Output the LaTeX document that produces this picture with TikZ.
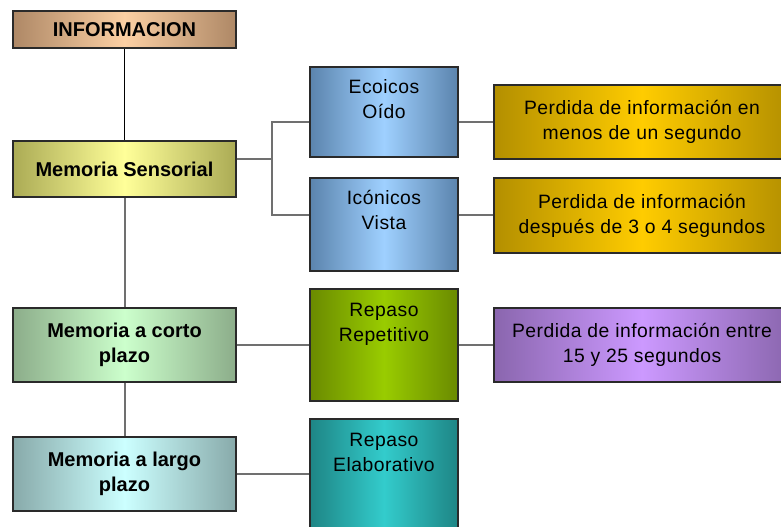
\documentclass[tikz,border=0pt]{standalone}
\usepackage{fontspec}
\setmainfont{Liberation Sans}
\newfontfamily\rfont[LetterSpace=2.5]{Liberation Sans}
\usetikzlibrary{calc}
\definecolor{bordercol}{HTML}{2A2A2A}
\definecolor{linegray}{HTML}{707070}
\definecolor{infoE}{HTML}{AE8866}\definecolor{infoC}{HTML}{FBCFA3}
\definecolor{sensE}{HTML}{ABAB55}\definecolor{sensC}{HTML}{FFFF99}
\definecolor{blueE}{HTML}{5B84AD}\definecolor{blueC}{HTML}{9FD0FF}
\definecolor{goldE}{HTML}{B38F00}\definecolor{goldC}{HTML}{FFCC00}
\definecolor{cortoE}{HTML}{8CAD8A}\definecolor{cortoC}{HTML}{CCFFCC}
\definecolor{repE}{HTML}{6A8A00}\definecolor{repC}{HTML}{99CC00}
\definecolor{largoE}{HTML}{88AAAA}\definecolor{largoC}{HTML}{CCFFFF}
\definecolor{elabE}{HTML}{1E8585}\definecolor{elabC}{HTML}{33CCCC}
\definecolor{purpE}{HTML}{8A66AE}\definecolor{purpC}{HTML}{CC99FF}
\tikzset{
  box/.style={draw=bordercol, line width=1.1pt, inner sep=0pt, rectangle, align=center},
  grad/.style 2 args={left color=#1, right color=#1, middle color=#2},
  btext/.style={font={\fontsize{15}{18.75}\selectfont\bfseries}},
  rtext/.style={font={\rfont\fontsize{14.5}{18.75}\selectfont}, inner sep=0pt, align=center},
  conn/.style={draw=linegray, line width=1.5pt},
}
\begin{document}
\begin{tikzpicture}[x=0.75pt,y=-0.75pt]
\useasboundingbox (0,0) rectangle (781,527);
\clip (0,0) rectangle (781,527);
% left column
\node[box, grad={infoE}{infoC}, btext, minimum width=167.25pt, minimum height=27.75pt] (info) at (124.5,29.5) {INFORMACION};
\node[box, grad={sensE}{sensC}, btext, minimum width=167.25pt, minimum height=42pt] (sens) at (124.5,169) {Memoria Sensorial};
\node[box, grad={cortoE}{cortoC}, btext, minimum width=167.25pt, minimum height=55.5pt] (corto) at (124.5,345) {Memoria a corto\\plazo};
\node[box, grad={largoE}{largoC}, btext, minimum width=167.25pt, minimum height=55.5pt] (largo) at (124.5,474) {Memoria a largo\\plazo};
% middle column
\node[box, grad={blueE}{blueC}, minimum width=111pt, minimum height=67.5pt] (eco) at (384,112) {};
\node[box, grad={blueE}{blueC}, minimum width=111pt, minimum height=69.75pt] (ico) at (384,224.5) {};
\node[box, grad={repE}{repC}, minimum width=111pt, minimum height=84pt] (rep) at (384,345) {};
\node[box, grad={elabE}{elabC}, minimum width=111pt, minimum height=90.75pt] (elab) at (384,479.5) {};
\node[rtext, anchor=north] (ecoT) at ([yshift=-7pt]eco.north) {\strut Ecoicos\\Oído};
\node[rtext, anchor=north] (icoT) at ([yshift=-7pt]ico.north) {\strut Icónicos\\Vista};
\node[rtext, anchor=north] (repT) at ([yshift=-7.5pt]rep.north) {\strut Repaso\\Repetitivo};
\node[rtext, anchor=north] (elabT) at ([yshift=-7.5pt]elab.north) {\strut Repaso\\Elaborativo};
% right column
\node[box, grad={goldE}{goldC}, rtext, minimum width=222pt, minimum height=55.5pt] (p1) at (642,122) {Perdida de información en\\menos de un segundo};
\node[box, grad={goldE}{goldC}, rtext, minimum width=222pt, minimum height=56.25pt] (p2) at (642,215.5) {Perdida de información\\después de 3 o 4 segundos};
\node[box, grad={purpE}{purpC}, rtext, minimum width=222pt, minimum height=55.5pt] (p3) at (642,345) {Perdida de información entre\\15 y 25 segundos};
% connectors
\coordinate (fk) at (272,159);
\draw[black, line width=1.2pt] (info.south) -- (sens.north);
\draw[conn] (sens.east |- fk) -- (fk);
\draw[conn] (eco.west |- p1.west) -| (fk) |- (ico.west |- p2.west);
\draw[conn] (eco.east |- p1.west) -- (p1.west);
\draw[conn] (ico.east |- p2.west) -- (p2.west);
\draw[conn] (sens.south) -- (corto.north);
\draw[conn] (corto.south) -- (largo.north);
\draw[conn] (corto.east) -- (rep.west);
\draw[conn] (rep.east) -- (p3.west);
\draw[conn] (largo.east) -- (largo.east -| elab.west);
\end{tikzpicture}
\end{document}
